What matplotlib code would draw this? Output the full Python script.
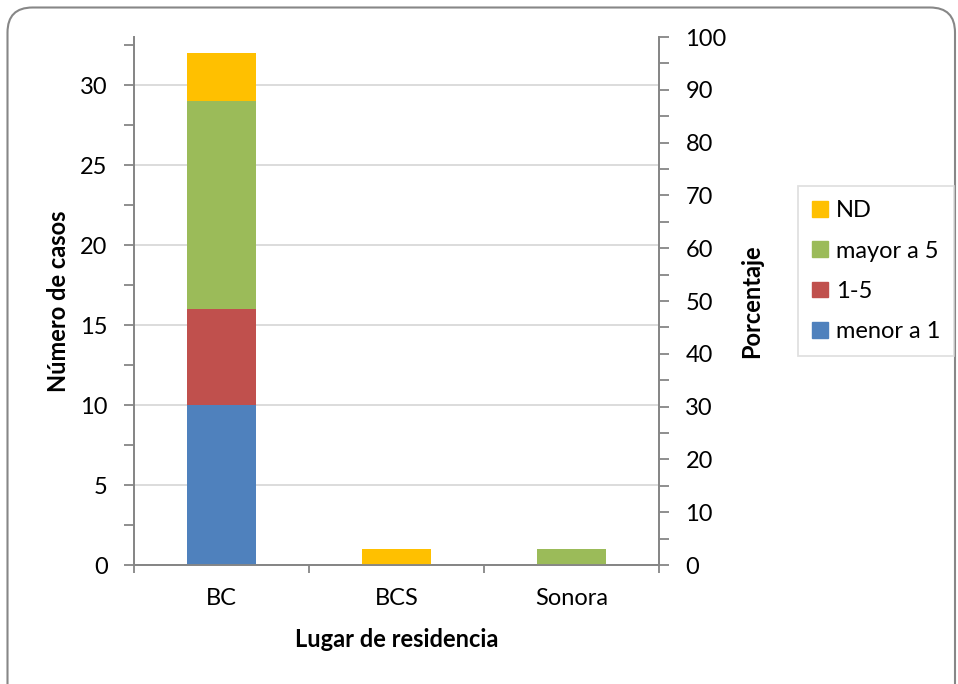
import matplotlib
matplotlib.use('Agg')
import matplotlib.pyplot as plt
from matplotlib.patches import FancyBboxPatch, Patch
from matplotlib.ticker import MultipleLocator
import numpy as np

# datos
lugares = ['BC', 'BCS', 'Sonora']
series = ['menor a 1', '1-5', 'mayor a 5', 'ND']
menor_a_1 = [10, 0, 0]
uno_cinco = [6, 0, 0]
mayor_a_5 = [13, 0, 1]
nd = [3, 1, 0]
colores = ['#4F81BD', '#C0504D', '#9BBB59', '#FFC000']

plt.rcParams['font.family'] = ['Lato', 'DejaVu Sans']
FS = 17
GRAY = '#868686'

fig = plt.figure(figsize=(9.58, 6.84), dpi=100)
ax = fig.add_axes([134 / 958, 1 - 565 / 684, 525 / 958, 528 / 684])
ax2 = ax.twinx()

x = np.arange(len(lugares))
bottom = np.zeros(len(lugares))
for vals, col in zip([menor_a_1, uno_cinco, mayor_a_5, nd], colores):
    ax.bar(x, vals, 0.395, bottom=bottom, color=col, zorder=3)
    bottom += np.array(vals)

ax.set_xlim(-0.5, 2.5)
ax.set_ylim(0, 33)
ax.yaxis.set_major_locator(MultipleLocator(5))
ax.yaxis.set_minor_locator(MultipleLocator(2.5))
ax.grid(axis='y', which='major', color='#D9D9D9', lw=1.3, zorder=0)
ax.set_axisbelow(True)

ax.set_xticks(x)
ax.set_xticklabels(lugares, fontsize=FS)
ax.set_xticks([-0.5, 0.5, 1.5, 2.5], minor=True)
ax.tick_params(axis='x', which='major', length=0, pad=16.5)
ax.tick_params(axis='x', which='minor', length=6, width=1.3, color=GRAY, direction='out')
ax.tick_params(axis='y', which='major', length=7, width=1.3, color=GRAY, labelsize=FS, pad=12)
ax.tick_params(axis='y', which='minor', length=7, width=1.3, color=GRAY)

ax2.set_ylim(0, 100)
ax2.yaxis.set_major_locator(MultipleLocator(10))
ax2.yaxis.set_minor_locator(MultipleLocator(5))
ax2.tick_params(axis='y', which='major', length=7, width=1.3, color=GRAY, labelsize=FS, pad=12)
ax2.tick_params(axis='y', which='minor', length=7, width=1.3, color=GRAY)

for a in (ax, ax2):
    a.spines['top'].set_visible(False)
    for s in ('left', 'right', 'bottom'):
        a.spines[s].set_color(GRAY)
        a.spines[s].set_linewidth(1.3)

ax.set_xlabel('Lugar de residencia', fontsize=FS, fontweight='bold', labelpad=14)
ax.set_ylabel('Número de casos', fontsize=FS, fontweight='bold', labelpad=7)
ax2.set_ylabel('Porcentaje', fontsize=FS, fontweight='bold', labelpad=10)

handles = [Patch(color=c, label=s) for s, c in zip(series, colores)][::-1]
leg = fig.legend(handles=handles, loc='upper left', bbox_to_anchor=(798 / 958, 1 - 186 / 684),
                 fontsize=FS, frameon=True, fancybox=False, handlelength=0.65, handleheight=0.65,
                 handletextpad=0.35, labelspacing=0.82, borderpad=0.6, borderaxespad=0)
leg.get_frame().set_edgecolor('#D9D9D9')
leg.get_frame().set_linewidth(1.3)

# marco exterior redondeado
borde = FancyBboxPatch((7.5, -30), 947.5, 706.5, boxstyle='round,pad=0,rounding_size=25',
                       transform=None, fill=False, edgecolor='#878787', lw=1.5)
fig.patches.append(borde)

fig.savefig('out.png', dpi=100)
